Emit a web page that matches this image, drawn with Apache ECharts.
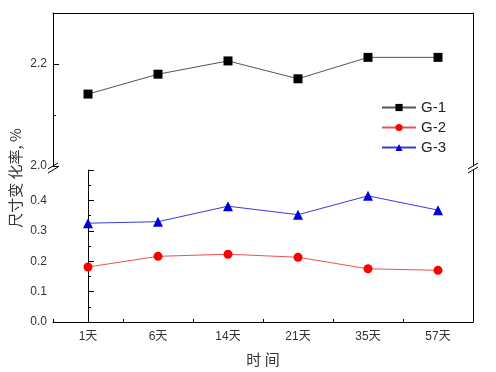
<!DOCTYPE html>
<html><head><meta charset="utf-8">
<script src="https://cdn.jsdelivr.net/npm/echarts@6/dist/echarts.min.js"></script>
<style>html,body{margin:0;padding:0;background:#fff}#c{width:496px;height:372px}</style>
</head><body><div id="c"></div>
<script>
var categories = ['1天','6天','14天','21天','35天','57天'];
var g1 = [2.141, 2.180, 2.206, 2.171, 2.213, 2.213];
var g2 = [0.181, 0.216, 0.223, 0.213, 0.175, 0.170];
var g3 = [0.325, 0.330, 0.381, 0.353, 0.415, 0.368];
var seriesNames = ['G-1','G-2','G-3'];
var yName = '尺寸变 化率, %';
var xName = '时 间';

var FONT = "'Liberation Sans', 'Noto Sans CJK SC', sans-serif";
var lineStyleAxis = {color:'#000', width:1};
var chart = echarts.init(document.getElementById('c'));
function fmt(v){return v.toFixed(1);}
chart.setOption({
  animation:false,
  backgroundColor:'#fff',
  grid:[
    {left:53, right:23, top:13, height:153},
    {left:53, right:23, top:170, height:152}
  ],
  legend:{
    orient:'vertical', left:376, top:95, itemWidth:34, itemHeight:9, itemGap:5,
    textStyle:{fontFamily:FONT, fontSize:15, color:'#222'},
    data:seriesNames
  },
  xAxis:[
    {gridIndex:0, type:'category', position:'top', data:categories, boundaryGap:true,
     axisLine:{lineStyle:lineStyleAxis}, axisTick:{show:false}, axisLabel:{show:false}, splitLine:{show:false}},
    {gridIndex:1, type:'category', position:'bottom', data:categories, boundaryGap:true,
     axisLine:{lineStyle:lineStyleAxis}, axisTick:{inside:true, alignWithLabel:true, length:6, lineStyle:lineStyleAxis},
     axisLabel:{fontFamily:FONT, fontSize:12, color:'#333', margin:9},
     name:xName, nameLocation:'middle', nameGap:30, nameTextStyle:{fontFamily:"'Noto Sans CJK SC', sans-serif", fontSize:15, color:'#333'},
     splitLine:{show:false}},
    {gridIndex:1, type:'value', position:'bottom', min:-0.5, max:5.5, interval:1,
     axisLine:{show:false}, axisTick:{inside:true, length:3, lineStyle:lineStyleAxis}, axisLabel:{show:false}, splitLine:{show:false}}
  ],
  yAxis:[
    {gridIndex:0, type:'value', position:'left', min:2.0, max:2.3, interval:0.2,
     axisLine:{show:true, lineStyle:lineStyleAxis}, axisTick:{show:true, inside:true, length:6, lineStyle:lineStyleAxis},
     axisLabel:{formatter:fmt, fontFamily:FONT, fontSize:12, color:'#333', margin:6, showMaxLabel:false}, splitLine:{show:false}},
    {gridIndex:0, type:'value', position:'left', min:2.0, max:2.3, interval:0.1,
     axisLine:{show:false}, axisTick:{show:true, inside:true, length:3, lineStyle:lineStyleAxis},
     axisLabel:{show:false}, splitLine:{show:false}},
    {gridIndex:0, type:'value', position:'right', min:2.0, max:2.3,
     axisLine:{show:true, lineStyle:lineStyleAxis}, axisTick:{show:false}, axisLabel:{show:false}, splitLine:{show:false}},
    {gridIndex:1, type:'value', position:'left', min:0, max:0.5, interval:0.1,
     axisLine:{show:true, lineStyle:lineStyleAxis}, axisTick:{show:true, inside:true, length:6, lineStyle:lineStyleAxis},
     minorTick:{show:true, splitNumber:2, length:3, lineStyle:lineStyleAxis},
     axisLabel:{formatter:fmt, fontFamily:FONT, fontSize:12, color:'#333', margin:6, showMaxLabel:false}, splitLine:{show:false}},
    {gridIndex:1, type:'value', position:'right', min:0, max:0.5,
     axisLine:{show:true, lineStyle:lineStyleAxis}, axisTick:{show:false}, axisLabel:{show:false}, splitLine:{show:false}}
  ],
  series:[
    {name:seriesNames[0], type:'line', xAxisIndex:0, yAxisIndex:0, data:g1,
     symbol:'rect', symbolSize:9, itemStyle:{color:'#000'}, lineStyle:{color:'#555', width:1}},
    {name:seriesNames[1], type:'line', xAxisIndex:1, yAxisIndex:3, data:g2,
     symbol:'circle', symbolSize:9, itemStyle:{color:'#f00'}, lineStyle:{color:'#f05050', width:1}},
    {name:seriesNames[2], type:'line', xAxisIndex:1, yAxisIndex:3, data:g3,
     symbol:'triangle', symbolSize:10, itemStyle:{color:'#0000dd'}, lineStyle:{color:'#3a3ad8', width:1}}
  ],
  graphic:[
    {type:'text', x:15, y:178, rotation:Math.PI/2, style:{text:yName, fontFamily:"'Noto Sans CJK SC', sans-serif", fontSize:15, fill:'#333', align:'center', verticalAlign:'middle'}},
    {type:'line', shape:{x1:48, y1:169, x2:58, y2:163}, style:{stroke:'#000', lineWidth:1}},
    {type:'line', shape:{x1:48, y1:173, x2:58, y2:167}, style:{stroke:'#000', lineWidth:1}},
    {type:'line', shape:{x1:468, y1:169, x2:478, y2:163}, style:{stroke:'#000', lineWidth:1}},
    {type:'line', shape:{x1:468, y1:173, x2:478, y2:167}, style:{stroke:'#000', lineWidth:1}}
  ]
});
</script></body></html>
